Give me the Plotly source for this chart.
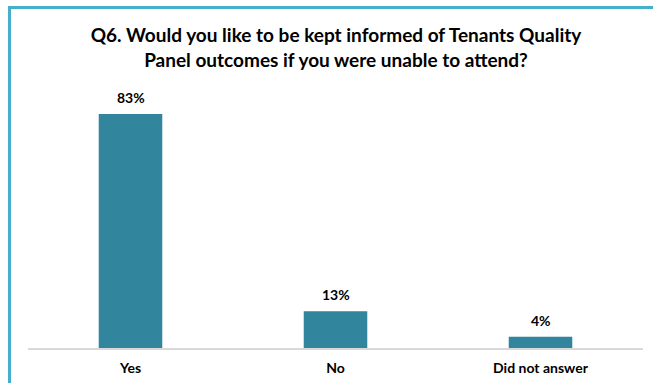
import plotly.graph_objects as go

categories = ["Yes", "No", "Did not answer"]
values = [83, 13, 4]
labels = ["83%", "13%", "4%"]

W, H = 653, 383
L, R, T, B = 28, 10, 90, 35
pw, ph = W - L - R, H - T - B

def px_x(p):
    return (p - L) / pw

def px_y(p):
    return (H - B - p) / ph

border = "#46AFCB"

fig = go.Figure(go.Bar(
    x=categories, y=values,
    marker=dict(color="#31859C", line=dict(width=0)),
    width=0.31,
))

for c, v, t in zip(categories, values, labels):
    fig.add_annotation(x=c, y=v, text=t, showarrow=False, yanchor="bottom", yshift=6,
                       font=dict(family="Lato", size=14, color="#000000", weight="bold"))

fig.update_layout(
    width=W, height=H,
    margin=dict(l=L, r=R, t=T, b=B, autoexpand=False),
    paper_bgcolor="white", plot_bgcolor="white",
    showlegend=False,
    title=dict(
        text="Q6. Would you like to be kept informed of Tenants Quality<br>Panel outcomes if you were unable to attend?",
        x=px_x(336), xanchor="center", xref="paper",
        y=1 - 42 / H, yanchor="middle", yref="container",
        font=dict(family="Lato", size=19, color="#000000", weight="bold"),
    ),
    xaxis=dict(showgrid=False, showline=True, linecolor="#D9D9D9", linewidth=1.5,
               automargin=False,
               ticks="", tickfont=dict(family="Lato", size=14, color="#000000", weight="bold"),
               ticklabelstandoff=6),
    yaxis=dict(visible=False, range=[0, ph / 2.82], automargin=False),
    shapes=[
        dict(type="line", xref="paper", yref="paper", x0=px_x(8), x1=px_x(660),
             y0=px_y(7.5), y1=px_y(7.5), line=dict(color=border, width=3)),
        dict(type="line", xref="paper", yref="paper", x0=px_x(9.5), x1=px_x(9.5),
             y0=px_y(6), y1=px_y(390), line=dict(color=border, width=3)),
    ],
)

fig.write_html("out.html")
